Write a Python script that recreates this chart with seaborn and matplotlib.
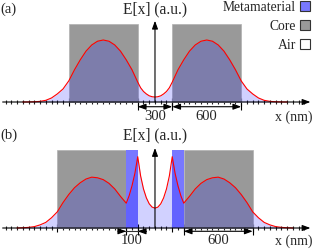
import numpy as np
import pandas as pd
import matplotlib
matplotlib.use("Agg")
import matplotlib.pyplot as plt
from matplotlib.patches import Rectangle, Patch
import seaborn as sns

# ------------------------------------------------------------
# data (x in nm, field in arbitrary units)
# ------------------------------------------------------------
# panel (a): two cores, 300 nm gap
x_half_a = [0, 25, 50, 75, 100, 125, 150, 200, 250, 300, 350, 400, 450, 500,
            550, 600, 650, 700, 750, 800, 850, 900, 950, 1000, 1050, 1100, 1150]
e_half_a = [0.08, 0.085, 0.10, 0.13, 0.17, 0.23, 0.32, 0.52, 0.68, 0.82, 0.92, 0.98, 1.00, 0.98,
            0.92, 0.82, 0.68, 0.52, 0.34, 0.21, 0.13, 0.065, 0.027, 0.01, 0.004, 0.001, 0.0]

# panel (b): metamaterial layers (100 nm) between gap and cores
x_half_b = [0, 25, 50, 75, 100, 125, 150, 175, 200, 225, 250, 300, 350, 400, 450, 500,
            550, 600, 650, 700, 750, 800, 850, 900, 950, 1000, 1050, 1100, 1150, 1200]
e_half_b = [0.32, 0.337, 0.39, 0.486, 0.63, 0.84, 1.15, 0.88, 0.68, 0.52, 0.40, 0.51, 0.63, 0.72, 0.78, 0.81,
            0.82, 0.79, 0.73, 0.65, 0.54, 0.41, 0.26, 0.165, 0.09, 0.05, 0.022, 0.01, 0.004, 0.0]

cores_a = [(-750, -150), (150, 750)]
meta_a = []
cores_b = [(-850, -250), (250, 850)]
meta_b = [(-250, -150), (150, 250)]

dims_a = [(-150, 150, "300", "out"), (150, 750, "600", "out")]
dims_b = [(-250, -150, "100", "in"), (250, 850, "600", "out")]

legend_labels = ["Metamaterial", "Core", "Air"]

# ------------------------------------------------------------
# style
# ------------------------------------------------------------
sns.set_theme(style="white")
plt.rcParams["font.family"] = ["Liberation Serif", "DejaVu Serif"]

GRAY = "#999999"
META = "#7878ff"
FILL = "blue"
FS = 10
RECT_TOP = 1.26
XLIM = (-1348, 1383)
YLIM = (-0.387, 1.645)
HEAD = "head_length=0.6,head_width=0.22"


def mirror(xh, eh):
    xh = np.asarray(xh, float)
    eh = np.asarray(eh, float)
    x = np.concatenate([-xh[::-1], xh[1:]])
    e = np.concatenate([eh[::-1], eh[1:]])
    return pd.DataFrame({"x": x, "E": e})


def arrow(ax, xy, xytext, style="-|>"):
    ax.annotate("", xy=xy, xytext=xytext, zorder=5,
                arrowprops=dict(arrowstyle=style + "," + HEAD, color="black", lw=0.8,
                                shrinkA=0, shrinkB=0, mutation_scale=8))


def dim_line(ax, x0, x1, label, y_line, y_bar, y_text, style):
    ax.vlines([x0, x1], y_bar[0], y_bar[1], color="black", lw=0.8, zorder=5)
    if style == "in":
        ax.plot([x0 - 72, x1 + 72], [y_line, y_line], color="#333333", lw=0.8, zorder=5)
        arrow(ax, (x0, y_line), (x0 - 72, y_line))
        arrow(ax, (x1, y_line), (x1 + 72, y_line))
    else:
        arrow(ax, (x1, y_line), (x0, y_line), "<|-|>")
    ax.text((x0 + x1) / 2, y_text, label, ha="center", va="center", fontsize=FS + 0.5)


def draw_panel(ax, df, cores, metas, dims, tag, y_axis_top, dim_y):
    for (a, b) in cores:
        ax.add_patch(Rectangle((a, 0), b - a, RECT_TOP, facecolor=GRAY,
                               edgecolor="#b0b0b0", lw=0.5, zorder=1))
    for (a, b) in metas:
        ax.add_patch(Rectangle((a, 0), b - a, RECT_TOP, facecolor=META,
                               edgecolor="none", zorder=1))

    ax.fill_between(df["x"], 0, df["E"], color=FILL, alpha=0.18, lw=0, zorder=2)
    sns.lineplot(data=df, x="x", y="E", ax=ax, color="red", lw=0.8, zorder=3,
                 sort=False)

    ax.set_xlim(*XLIM)
    ax.set_ylim(*YLIM)

    # x axis with ticks
    for s in ["top", "right", "left", "bottom"]:
        ax.spines[s].set_visible(False)
    ax.spines["bottom"].set_position(("data", 0))
    edges = sorted({v for pair in cores + metas for v in pair})
    ax.set_xticks(edges)
    ax.set_xticks(np.arange(-1300, 1301, 50), minor=True)
    ax.tick_params(axis="x", which="major", direction="inout", length=5.5, width=0.8,
                   color="black", labelbottom=False, bottom=True)
    ax.tick_params(axis="x", which="minor", direction="inout", length=3.5, width=0.8,
                   color="#222222", bottom=True)
    ax.set_yticks([])
    ax.set_xlabel("")
    ax.set_ylabel("")

    arrow(ax, (1352, 0), (-1325, 0))
    arrow(ax, (0, y_axis_top), (0, 0))

    ax.text(0, 1.5, "E[x] (a.u.)", ha="center", va="center", fontsize=FS + 1.2)
    ax.text(XLIM[0] + 3, 1.5, tag, ha="left", va="center", fontsize=FS + 0.5)
    ax.text(1374, dim_y[2] - 0.01, "x (nm)", ha="right", va="center", fontsize=FS)

    for (x0, x1, lab, style) in dims:
        dim_line(ax, x0, x1, lab, dim_y[0], dim_y[1], dim_y[2], style)


fig = plt.figure(figsize=(3.14, 2.52), dpi=100)
ax_a = fig.add_axes([0, 0.5, 1, 0.5])
ax_b = fig.add_axes([0, 0.0, 1, 0.5])
for ax in (ax_a, ax_b):
    ax.patch.set_alpha(0)

draw_panel(ax_a, mirror(x_half_a, e_half_a), cores_a, meta_a, dims_a, "(a)", 1.31,
           (-0.076, (-0.02, -0.13), -0.237))
draw_panel(ax_b, mirror(x_half_b, e_half_b), cores_b, meta_b, dims_b, "(b)", 1.29,
           (-0.053, (0.0, -0.11), -0.205))

handles = [Patch(facecolor=META, edgecolor="#333333", lw=0.8),
           Patch(facecolor=GRAY, edgecolor="#333333", lw=0.8),
           Patch(facecolor="white", edgecolor="#333333", lw=0.8)]
ax_a.legend(handles, legend_labels, loc="upper right", bbox_to_anchor=(0.99, 1.0),
            frameon=False, markerfirst=False, fontsize=9.8, handlelength=0.75,
            handleheight=0.75, handletextpad=0.3, labelspacing=0.45,
            borderpad=0.05, borderaxespad=0)

fig.savefig("out.png", dpi=100)
